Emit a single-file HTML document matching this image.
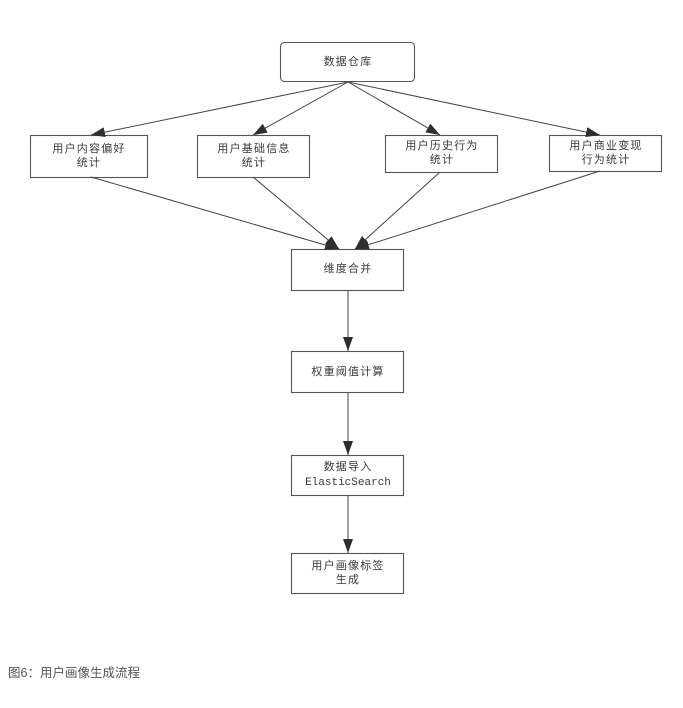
<!DOCTYPE html>
<html>
<head>
<meta charset="utf-8">
<style>
  html, body { margin:0; padding:0; background:#fff; }
  body { width:683px; height:708px; overflow:hidden; position:relative; }
  svg { position:absolute; left:0; top:0; }
  .t { font-family:"Liberation Sans","Noto Sans CJK SC",sans-serif; font-size:11px; fill:#3a3a3a; letter-spacing:1.2px; }
  .m { font-family:"Liberation Mono","Noto Sans CJK SC",monospace; font-size:11px; fill:#3a3a3a; }
  .cap { position:absolute; left:8px; top:662px; font-family:"Liberation Sans","Noto Sans CJK SC",sans-serif; font-size:12.5px; color:#555; white-space:nowrap; }
</style>
</head>
<body>
<svg width="683" height="708" viewBox="0 0 683 708" xmlns="http://www.w3.org/2000/svg">
  <defs>
    <marker id="a" viewBox="0 0 14 10" refX="14" refY="5" markerWidth="14" markerHeight="10" markerUnits="userSpaceOnUse" orient="auto">
      <path d="M0,0 L14,5 L0,10 z" fill="#2e2e2e"/>
    </marker>
  </defs>
  <g fill="none" stroke="#555" stroke-width="1.1">
    <rect x="280.5" y="42.5" width="134" height="39" rx="4" ry="4"/>
    <rect x="30.5" y="135.5" width="117" height="42"/>
    <rect x="197.5" y="135.5" width="112" height="42"/>
    <rect x="385.5" y="135.5" width="112" height="37"/>
    <rect x="549.5" y="135.5" width="112" height="36"/>
    <rect x="291.5" y="249.5" width="112" height="41"/>
    <rect x="291.5" y="351.5" width="112" height="41"/>
    <rect x="291.5" y="455.5" width="112" height="40"/>
    <rect x="291.5" y="553.5" width="112" height="40"/>
  </g>
  <g stroke="#444" stroke-width="1" fill="none">
    <line x1="348" y1="82" x2="91" y2="135" marker-end="url(#a)"/>
    <line x1="348" y1="82" x2="253" y2="135" marker-end="url(#a)"/>
    <line x1="348" y1="82" x2="440" y2="135" marker-end="url(#a)"/>
    <line x1="348" y1="82" x2="600" y2="135" marker-end="url(#a)"/>
    <line x1="91" y1="177" x2="339" y2="249" marker-end="url(#a)"/>
    <line x1="253" y1="177" x2="339" y2="249" marker-end="url(#a)"/>
    <line x1="440" y1="172" x2="355" y2="249" marker-end="url(#a)"/>
    <line x1="600" y1="171" x2="355" y2="249" marker-end="url(#a)"/>
    <line x1="348" y1="291" x2="348" y2="351" marker-end="url(#a)"/>
    <line x1="348" y1="393" x2="348" y2="455" marker-end="url(#a)"/>
    <line x1="348" y1="496" x2="348" y2="553" marker-end="url(#a)"/>
  </g>
  <g text-anchor="middle" dominant-baseline="central">
    <text class="t" x="348" y="62">数据仓库</text>
    <text class="t" x="89" y="149">用户内容偏好</text>
    <text class="t" x="89" y="163">统计</text>
    <text class="t" x="254" y="149">用户基础信息</text>
    <text class="t" x="254" y="163">统计</text>
    <text class="t" x="442" y="146">用户历史行为</text>
    <text class="t" x="442" y="160">统计</text>
    <text class="t" x="606" y="146">用户商业变现</text>
    <text class="t" x="606" y="160">行为统计</text>
    <text class="t" x="348" y="269">维度合并</text>
    <text class="t" x="348" y="372">权重阈值计算</text>
    <text class="t" x="348" y="467">数据导入</text>
    <text class="m" x="348" y="483">ElasticSearch</text>
    <text class="t" x="348" y="566">用户画像标签</text>
    <text class="t" x="348" y="580">生成</text>
  </g>
</svg>
<div class="cap">图6：用户画像生成流程</div>
</body>
</html>
